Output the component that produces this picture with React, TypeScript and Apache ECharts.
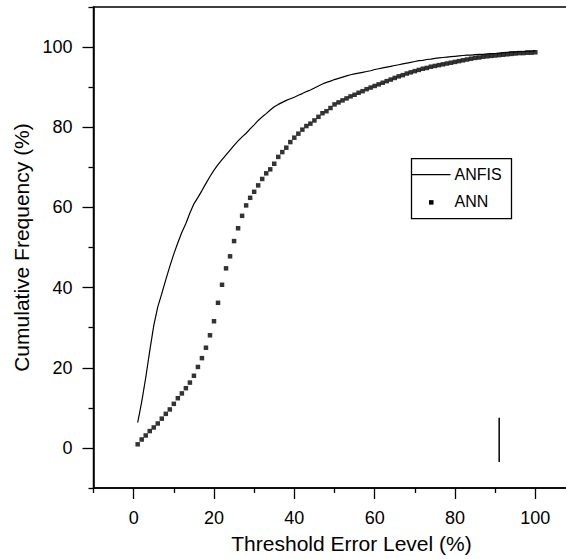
import React, { useEffect, useRef } from "react";
import * as echarts from "echarts";

const thresholds = [
  1, 2, 3, 4, 5, 6, 7, 8, 9, 10, 11, 12, 13, 14, 15, 16, 17, 18, 19, 20,
  21, 22, 23, 24, 25, 26, 27, 28, 29, 30, 31, 32, 33, 34, 35, 36, 37, 38, 39, 40,
  41, 42, 43, 44, 45, 46, 47, 48, 49, 50, 51, 52, 53, 54, 55, 56, 57, 58, 59, 60,
  61, 62, 63, 64, 65, 66, 67, 68, 69, 70, 71, 72, 73, 74, 75, 76, 77, 78, 79, 80,
  81, 82, 83, 84, 85, 86, 87, 88, 89, 90, 91, 92, 93, 94, 95, 96, 97, 98, 99, 100,
];

const anfis = [
  6.3, 11.5, 17.5, 24.2, 30.5, 35.2, 38.5, 42.0, 45.3, 48.4,
  51.2, 53.8, 56.0, 58.6, 60.9, 62.5, 64.2, 66.0, 67.7, 69.3,
  70.7, 71.9, 73.1, 74.3, 75.5, 76.6, 77.6, 78.5, 79.6, 80.6,
  81.7, 82.6, 83.4, 84.3, 85.1, 85.7, 86.2, 86.7, 87.1, 87.5,
  88.0, 88.4, 88.9, 89.3, 89.8, 90.3, 90.8, 91.2, 91.5, 91.9,
  92.2, 92.5, 92.8, 93.1, 93.3, 93.5, 93.7, 93.9, 94.1, 94.4,
  94.6, 94.8, 95.0, 95.2, 95.4, 95.6, 95.8, 96.0, 96.2, 96.4,
  96.6, 96.7, 96.9, 97.0, 97.2, 97.3, 97.4, 97.5, 97.6, 97.7,
  97.8, 97.9, 98.0, 98.0, 98.1, 98.2, 98.2, 98.3, 98.4, 98.4,
  98.5, 98.6, 98.7, 98.8, 98.8, 98.9, 98.9, 99.0, 99.0, 99.1,
];

const ann = [
  0.9, 2.1, 3.1, 4.2, 5.1, 6.1, 7.3, 8.5, 9.6, 11.0,
  12.4, 13.6, 14.9, 16.3, 18.0, 20.2, 22.4, 25.0, 28.1, 31.6,
  36.2, 40.7, 44.8, 47.8, 51.6, 54.8, 57.9, 60.5, 62.4, 63.9,
  65.5, 67.1, 68.5, 69.5, 70.9, 72.6, 73.8, 74.9, 76.3, 77.4,
  78.4, 79.4, 80.3, 80.9, 81.7, 82.6, 83.5, 84.0, 84.8, 85.7,
  86.2, 86.7, 87.2, 87.7, 88.1, 88.6, 89.0, 89.5, 89.9, 90.3,
  90.7, 91.1, 91.5, 91.9, 92.3, 92.7, 93.0, 93.4, 93.7, 94.0,
  94.3, 94.6, 94.8, 95.1, 95.3, 95.5, 95.7, 95.9, 96.1, 96.3,
  96.5, 96.7, 96.9, 97.1, 97.3, 97.4, 97.6, 97.7, 97.8, 97.9,
  98.0, 98.1, 98.2, 98.3, 98.4, 98.5, 98.5, 98.6, 98.6, 98.7,
];

const majorTicks = [0, 20, 40, 60, 80, 100];
const minorTicks = [-10, 10, 30, 50, 70, 90, 110];
const markerX = [91, 91];
const markerY = [7.5, -3.5];

const FONT = "'Liberation Sans', Arial, Helvetica, sans-serif";

export default function App() {
  const ref = useRef<HTMLDivElement>(null);
  useEffect(() => {
    if (!ref.current) return;
    const chart = echarts.init(ref.current, undefined, { renderer: "svg" });
    const axisBase = {
      type: "value",
      min: -10,
      max: 110,
      splitLine: { show: false },
    };
    chart.setOption({
      animation: false,
      backgroundColor: "#fff",
      grid: {
        left: 93.5,
        top: 7,
        width: 482,
        height: 482,
        show: true,
        borderColor: "#000",
        borderWidth: 1.5,
        backgroundColor: "transparent",
      },
      xAxis: [
        {
          ...axisBase,
          position: "bottom",
          axisLine: { show: true, onZero: false, lineStyle: { color: "#000", width: 1.5 } },
          axisTick: {
            show: true,
            inside: false,
            length: 11,
            customValues: majorTicks,
            lineStyle: { color: "#000", width: 1.3 },
          },
          axisLabel: {
            show: true,
            customValues: majorTicks,
            margin: 21,
            fontSize: 18,
            color: "#000",
            fontFamily: FONT,
          },
          name: "Threshold Error Level (%)",
          nameLocation: "middle",
          nameGap: 45,
          nameTextStyle: { fontSize: 21, color: "#000", fontFamily: FONT, padding: [0, 0, 0, 34] },
        },
        {
          ...axisBase,
          position: "bottom",
          axisLine: { show: false, onZero: false },
          axisTick: {
            show: true,
            inside: false,
            length: 5,
            customValues: minorTicks,
            lineStyle: { color: "#000", width: 1.3 },
          },
          axisLabel: { show: false },
        },
      ],
      yAxis: [
        {
          ...axisBase,
          position: "left",
          axisLine: { show: true, onZero: false, lineStyle: { color: "#000", width: 1.5 } },
          axisTick: {
            show: true,
            inside: false,
            length: 11,
            customValues: majorTicks,
            lineStyle: { color: "#000", width: 1.3 },
          },
          axisLabel: {
            show: true,
            customValues: majorTicks,
            margin: 21,
            fontSize: 18,
            color: "#000",
            fontFamily: FONT,
          },
          name: "Cumulative Frequency (%)",
          nameLocation: "middle",
          nameGap: 62,
          nameTextStyle: { fontSize: 21, color: "#000", fontFamily: FONT },
        },
        {
          ...axisBase,
          position: "left",
          axisLine: { show: false, onZero: false },
          axisTick: {
            show: true,
            inside: false,
            length: 5,
            customValues: minorTicks,
            lineStyle: { color: "#000", width: 1.3 },
          },
          axisLabel: { show: false },
        },
      ],
      series: [
        {
          name: "ANFIS",
          type: "line",
          xAxisIndex: 0,
          yAxisIndex: 0,
          data: thresholds.map((x, i) => [x, anfis[i]]),
          symbol: "none",
          lineStyle: { color: "#000", width: 1.2 },
          itemStyle: { color: "#000" },
        },
        {
          name: "ANN",
          type: "scatter",
          xAxisIndex: 0,
          yAxisIndex: 0,
          data: thresholds.map((x, i) => [x, ann[i]]),
          symbol: "rect",
          symbolSize: 4.5,
          itemStyle: { color: "#000" },
        },
        {
          name: "marker",
          type: "line",
          xAxisIndex: 0,
          yAxisIndex: 0,
          data: markerX.map((x, i) => [x, markerY[i]]),
          symbol: "none",
          silent: true,
          lineStyle: { color: "#000", width: 1.5 },
        },
      ],
      graphic: [
        {
          type: "group",
          left: 409,
          top: 158,
          children: [
            {
              type: "rect",
              shape: { x: 0, y: 0, width: 100, height: 60 },
              style: { fill: "#fff", stroke: "#000", lineWidth: 1.3 },
            },
            {
              type: "line",
              shape: { x1: 0, y1: 16, x2: 39, y2: 16 },
              style: { stroke: "#000", lineWidth: 1.2 },
            },
            {
              type: "text",
              x: 43,
              y: 16,
              style: {
                text: "ANFIS",
                fontSize: 16,
                fontFamily: FONT,
                fill: "#000",
                verticalAlign: "middle",
                align: "left",
              },
            },
            {
              type: "rect",
              shape: { x: 17.5, y: 41.5, width: 4.5, height: 4.5 },
              style: { fill: "#000" },
            },
            {
              type: "text",
              x: 43,
              y: 43,
              style: {
                text: "ANN",
                fontSize: 16,
                fontFamily: FONT,
                fill: "#000",
                verticalAlign: "middle",
                align: "left",
              },
            },
          ],
        },
      ],
    });
    return () => chart.dispose();
  }, []);
  return (
    <div
      ref={ref}
      style={{ position: "fixed", left: 0, top: 0, width: 580, height: 559, background: "#fff" }}
    />
  );
}
